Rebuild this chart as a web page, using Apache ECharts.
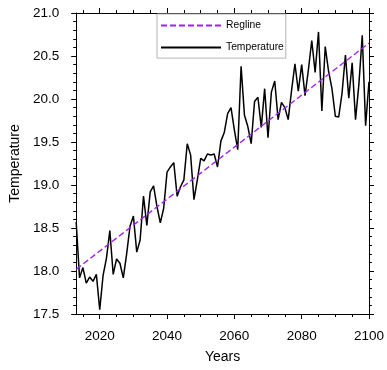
<!DOCTYPE html>
<html>
<head>
<meta charset="utf-8">
<script src="https://cdn.jsdelivr.net/npm/echarts@6/dist/echarts.min.js"></script>
<style>
html, body { margin: 0; padding: 0; background: #fff; }
#chart { width: 387px; height: 370px; }
</style>
</head>
<body>
<div id="chart"></div>
<script>
var years = [];
for (var y = 2013; y <= 2100; y++) years.push(y);

var temps = [
	18.57, 17.92, 18.04, 17.86, 17.93, 17.88, 17.96, 17.55, 17.95, 18.15,
	18.47, 17.96, 18.14, 18.09, 17.92, 18.20, 18.52, 18.64, 18.22, 18.36,
	18.87, 18.53, 18.92, 18.99, 18.75, 18.56, 18.73, 19.15, 19.21, 19.26,
	18.87, 18.98, 19.06, 19.48, 19.35, 18.83, 19.06, 19.31, 19.28, 19.36,
	19.35, 19.36, 19.21, 19.51, 19.61, 19.83, 19.90, 19.64, 19.41, 20.38,
	19.81, 19.68, 19.48, 19.97, 20.02, 19.67, 20.12, 19.55, 20.08, 20.21,
	19.76, 19.96, 19.90, 19.76, 20.10, 20.41, 20.09, 20.40, 20.04, 20.34,
	20.68, 20.31, 20.78, 19.86, 20.61, 20.32, 20.12, 19.80, 19.79, 20.07,
	20.51, 20.01, 20.42, 19.76, 20.17, 20.74, 19.69, 20.20
];

// regression line end points
var regYears = [2013, 2100];
var regValues = [18.02, 20.65];

var xMajor = [2020, 2040, 2060, 2080, 2100];
var xMinor = [2015, 2025, 2030, 2035, 2045, 2050, 2055, 2065, 2070, 2075, 2085, 2090, 2095];

var font = 'Liberation Sans, Arial, sans-serif';
var axisColor = '#000';

function xAx(pos, ticks, len, labels) {
	return {
		type: 'value', gridIndex: 0, position: pos,
		min: 2013, max: 2100,
		axisLine: { show: true, onZero: false, lineStyle: { color: axisColor, width: 1 } },
		axisTick: { show: true, inside: false, length: len, customValues: ticks, lineStyle: { color: axisColor } },
		axisLabel: labels ? {
			show: true, customValues: xMajor, margin: 15,
			color: '#000', fontSize: 13.5, fontFamily: font,
			formatter: function (v) { return String(v); }
		} : { show: false },
		splitLine: { show: false }
	};
}

function yAx(pos, labels) {
	return {
		type: 'value', gridIndex: 0, position: pos,
		min: 17.5, max: 21, interval: 0.5,
		axisLine: { show: true, onZero: false, lineStyle: { color: axisColor, width: 1 } },
		axisTick: { show: true, inside: false, length: 5, lineStyle: { color: axisColor } },
		minorTick: { show: true, splitNumber: 5, length: 3, lineStyle: { color: axisColor } },
		axisLabel: labels ? {
			show: true, margin: 17, color: '#000', fontSize: 13.5, fontFamily: font,
			formatter: function (v) { return v.toFixed(1); }
		} : { show: false },
		splitLine: { show: false }
	};
}

var xBottom = xAx('bottom', xMajor, 5, true);
xBottom.name = 'Years';
xBottom.nameLocation = 'middle';
xBottom.nameGap = 36;
xBottom.nameTextStyle = { color: '#000', fontSize: 14, fontFamily: font };

var yLeft = yAx('left', true);
yLeft.name = 'Temperature';
yLeft.nameLocation = 'middle';
yLeft.nameGap = 52;
yLeft.nameTextStyle = { color: '#000', fontSize: 14, fontFamily: font };

var tempData = years.map(function (yr, i) { return [yr, temps[i]]; });
var regData = regYears.map(function (yr, i) { return [yr, regValues[i]]; });

var chart = echarts.init(document.getElementById('chart'), null, { renderer: 'canvas' });
chart.setOption({
	backgroundColor: '#fff',
	animation: false,
	grid: { left: 68, right: 17, top: 13, bottom: 56 },
	legend: {
		orient: 'vertical',
		left: 157, top: 14,
		padding: [6, 2, 5, 3],
		itemGap: 10.7,
		itemWidth: 60, itemHeight: 14,
		backgroundColor: '#fff',
		borderColor: '#b4b4b4', borderWidth: 1,
		itemStyle: { opacity: 0 },
		textStyle: { color: '#000', fontSize: 10.3, fontFamily: font },
		data: ['Regline', 'Temperature']
	},
	xAxis: [
		xBottom,
		xAx('bottom', xMinor, 3, false),
		xAx('top', xMajor, 5, false),
		xAx('top', xMinor, 3, false)
	],
	yAxis: [yLeft, yAx('right', false)],
	series: [
		{
			name: 'Temperature', type: 'line', xAxisIndex: 0, yAxisIndex: 0,
			data: tempData, symbol: 'none', z: 2,
			lineStyle: { color: '#000', width: 1.5 },
			itemStyle: { color: '#000' }
		},
		{
			name: 'Regline', type: 'line', xAxisIndex: 0, yAxisIndex: 0,
			data: regData, symbol: 'none', z: 3,
			lineStyle: { color: '#a020f0', width: 1.4, type: [6, 3] },
			itemStyle: { color: '#a020f0' }
		}
	]
});
</script>
</body>
</html>
